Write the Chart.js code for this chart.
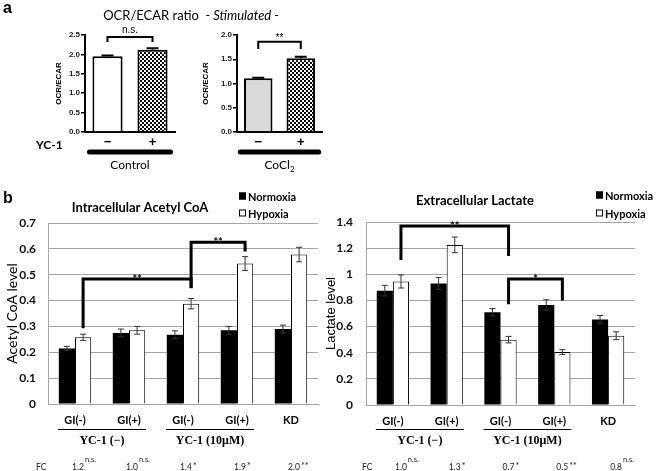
<!DOCTYPE html>
<html>
<head>
<meta charset="utf-8">
<script src="https://cdn.jsdelivr.net/npm/chart.js@4.4.0/dist/chart.umd.min.js"></script>
<style>
  html, body { margin: 0; padding: 0; background: #fff; }
  #wrap { position: relative; width: 660px; height: 471px; overflow: hidden; }
  #wrap canvas { position: absolute; left: 0; top: 0; }
</style>
</head>
<body>
<div id="wrap">
  <canvas id="ocrControl" width="660" height="471"></canvas>
  <canvas id="ocrCocl2" width="660" height="471"></canvas>
  <canvas id="acetyl" width="660" height="471"></canvas>
  <canvas id="lactate" width="660" height="471"></canvas>
</div>
<script>
// ---- panel a: OCR/ECAR ----
const yc1Labels = ['−', '+'];
const ocrControl = [1.95, 2.12];
const ocrControlErr = [0.02, 0.04];
const ocrCocl2 = [1.11, 1.52];
const ocrCocl2Err = [0.01, 0.03];
const ocrControlTicks = [0, 0.5, 1.0, 1.5, 2.0, 2.5];
const ocrCocl2Ticks = [0, 0.5, 1.0, 1.5, 2.0];
const ocrControlBracket = [{ from: 0, to: 1, top: 2.45, left: 2.32, right: 2.32, mark: 'n.s.' }];
const ocrCocl2Bracket = [{ from: 0, to: 1, top: 1.86, left: 1.71, right: 1.71, mark: '**' }];

// ---- panel b ----
const groups = ['GI(-)', 'GI(+)', 'GI(-)', 'GI(+)', 'KD'];
const yc1Groups = [
  { label: 'YC-1 (−)', from: 0, to: 1 },
  { label: 'YC-1 (10μM)', from: 2, to: 3 }
];
const acetylNormoxia = [0.215, 0.275, 0.268, 0.285, 0.29];
const acetylNormoxiaErr = [0.008, 0.015, 0.015, 0.015, 0.015];
const acetylHypoxia = [0.258, 0.285, 0.388, 0.543, 0.578];
const acetylHypoxiaErr = [0.012, 0.015, 0.02, 0.027, 0.028];
const acetylFC = ['1.2', '1.0', '1.4', '1.9', '2.0'];
const acetylSig = ['n.s.', 'n.s.', '*', '*', '**'];
const acetylBrackets = [
  { from: 0, to: 2, top: 0.483, left: 0.293, right: 0.448, mark: '**' },
  { from: 2, to: 3, top: 0.626, left: 0.45, right: 0.59, mark: '**' }
];

const lactateNormoxia = [0.875, 0.93, 0.71, 0.765, 0.655];
const lactateNormoxiaErr = [0.04, 0.045, 0.028, 0.04, 0.03];
const lactateHypoxia = [0.945, 1.225, 0.5, 0.405, 0.53];
const lactateHypoxiaErr = [0.05, 0.06, 0.025, 0.018, 0.03];
const lactateFC = ['1.0', '1.3', '0.7', '0.5', '0.8'];
const lactateSig = ['n.s.', '*', '*', '**', 'n.s.'];
const lactateBrackets = [
  { from: 0, to: 2, top: 1.37, left: 1.11, right: 1.14, mark: '**' },
  { from: 2, to: 3, top: 0.964, left: 0.77, right: 0.8, mark: '*' }
];

Chart.defaults.font.family = 'Lato, "Liberation Sans", sans-serif';
Chart.defaults.color = '#000';

// checker fill for the YC-1 (+) bars
function checker() {
  const c = document.createElement('canvas');
  c.width = 4; c.height = 4;
  const g = c.getContext('2d');
  g.fillStyle = '#fff'; g.fillRect(0, 0, 4, 4);
  g.fillStyle = '#000'; g.fillRect(0, 0, 2, 2); g.fillRect(2, 2, 2, 2);
  return g.createPattern(c, 'repeat');
}

const errorBars = {
  id: 'errorBars',
  afterDatasetsDraw(chart, args, o) {
    const ctx = chart.ctx, ys = chart.scales.y;
    ctx.save();
    ctx.strokeStyle = o.color;
    ctx.lineWidth = o.lineWidth;
    chart.data.datasets.forEach((ds, i) => {
      if (!ds.errors) return;
      chart.getDatasetMeta(i).data.forEach((bar, j) => {
        const v = ds.data[j], e = ds.errors[j];
        const yTop = ys.getPixelForValue(v + e);
        const yBot = ys.getPixelForValue(o.upOnly ? v : v - e);
        ctx.beginPath();
        ctx.moveTo(bar.x, yTop); ctx.lineTo(bar.x, yBot);
        ctx.moveTo(bar.x - o.cap / 2, yTop); ctx.lineTo(bar.x + o.cap / 2, yTop);
        if (!o.upOnly) { ctx.moveTo(bar.x - o.cap / 2, yBot); ctx.lineTo(bar.x + o.cap / 2, yBot); }
        ctx.stroke();
      });
    });
    ctx.restore();
  }
};

const brackets = {
  id: 'brackets',
  afterDatasetsDraw(chart, args, o) {
    const ctx = chart.ctx, ys = chart.scales.y;
    const bars = chart.getDatasetMeta(o.dataset).data;
    ctx.save();
    ctx.strokeStyle = '#000';
    ctx.fillStyle = '#000';
    ctx.lineWidth = o.lineWidth;
    ctx.lineJoin = 'miter';
    ctx.font = o.font;
    ctx.textAlign = 'center';
    ctx.textBaseline = 'alphabetic';
    o.items.forEach(b => {
      const x1 = bars[b.from].x, x2 = bars[b.to].x;
      const yt = ys.getPixelForValue(b.top);
      ctx.beginPath();
      ctx.moveTo(x1, ys.getPixelForValue(b.left));
      ctx.lineTo(x1, yt);
      ctx.lineTo(x2, yt);
      ctx.lineTo(x2, ys.getPixelForValue(b.right));
      ctx.stroke();
      const star = b.mark.indexOf('*') >= 0;
      ctx.fillText(b.mark, (x1 + x2) / 2, yt + (star ? o.starDy : o.textDy));
    });
    ctx.restore();
  }
};

// free text: titles, panel letters
const texts = {
  id: 'texts',
  afterDraw(chart, args, o) {
    const ctx = chart.ctx;
    ctx.save();
    ctx.fillStyle = '#000';
    ctx.textBaseline = 'alphabetic';
    o.items.forEach(t => {
      const parts = t.parts || [{ text: t.text, font: t.font }];
      let total = 0;
      parts.forEach(p => { ctx.font = p.font; total += ctx.measureText(p.text).width; });
      let x = t.align === 'left' ? t.x : t.x - total / 2;
      ctx.textAlign = 'left';
      parts.forEach(p => {
        ctx.font = p.font;
        ctx.fillText(p.text, x, t.y);
        x += ctx.measureText(p.text).width;
      });
    });
    ctx.restore();
  }
};

const boxLegend = {
  id: 'boxLegend',
  afterDraw(chart, args, o) {
    const ctx = chart.ctx;
    ctx.save();
    ctx.font = o.font;
    ctx.textBaseline = 'middle';
    ctx.textAlign = 'left';
    chart.data.datasets.forEach((ds, i) => {
      const y = o.y + i * o.gap;
      ctx.fillStyle = ds.backgroundColor;
      ctx.fillRect(o.x, y - o.size / 2, o.size, o.size);
      ctx.strokeStyle = '#000';
      ctx.lineWidth = 1;
      ctx.strokeRect(o.x + 0.5, y - o.size / 2 + 0.5, o.size - 1, o.size - 1);
      ctx.fillStyle = '#000';
      ctx.fillText(ds.label, o.x + o.size + 2, y + 1);
    });
    ctx.restore();
  }
};

// YC-1 group underline, group names and the FC row
const groupAxis = {
  id: 'groupAxis',
  afterDraw(chart, args, o) {
    const ctx = chart.ctx, xs = chart.scales.x;
    ctx.save();
    ctx.fillStyle = '#000';
    ctx.strokeStyle = '#000';
    ctx.lineWidth = 1;
    ctx.textAlign = 'center';
    ctx.textBaseline = 'alphabetic';
    yc1Groups.forEach(g => {
      const x1 = xs.getPixelForValue(g.from) - o.ext;
      const x2 = xs.getPixelForValue(g.to) + o.ext;
      ctx.beginPath();
      ctx.moveTo(x1, o.lineY + 0.5); ctx.lineTo(x2, o.lineY + 0.5);
      ctx.stroke();
      ctx.font = 'bold 12px "Liberation Serif", serif';
      ctx.fillText(g.label, (x1 + x2) / 2, o.textY);
    });
    ctx.fillStyle = '#222';
    ctx.font = '8.5px Lato, sans-serif';
    ctx.textAlign = 'left';
    ctx.fillText('FC', o.fcX, o.fcY);
    o.fc.forEach((v, i) => {
      const x = xs.getPixelForValue(i) + o.fcShift;
      ctx.font = '8.5px Lato, sans-serif';
      ctx.textAlign = 'center';
      ctx.fillText(v, x, o.fcY);
      const w = ctx.measureText(v).width;
      const s = o.sig[i];
      ctx.font = (s.indexOf('*') >= 0 ? '9px' : '7.5px') + ' Lato, sans-serif';
      ctx.textAlign = 'left';
      ctx.fillText(s, x + w / 2 + 1, o.fcY + (s.indexOf('*') >= 0 ? -1 : -8));
    });
    ctx.restore();
  }
};

// thick treatment bar under panel a charts
const treatBar = {
  id: 'treatBar',
  afterDraw(chart, args, o) {
    const ctx = chart.ctx, xs = chart.scales.x;
    const x1 = xs.getPixelForValue(0) - o.ext, x2 = xs.getPixelForValue(1) + o.ext;
    ctx.save();
    ctx.strokeStyle = '#000';
    ctx.lineWidth = 5;
    ctx.lineCap = 'round';
    ctx.beginPath();
    ctx.moveTo(x1, o.y); ctx.lineTo(x2, o.y);
    ctx.stroke();
    ctx.fillStyle = '#000';
    ctx.font = '12px Lato, sans-serif';
    const w1 = ctx.measureText(o.label).width;
    ctx.font = '8px Lato, sans-serif';
    const w2 = o.sub ? ctx.measureText(o.sub).width : 0;
    const x0 = (x1 + x2) / 2 - (w1 + w2) / 2;
    ctx.textAlign = 'left';
    ctx.font = '12px Lato, sans-serif';
    ctx.fillText(o.label, x0, o.labelY);
    if (o.sub) {
      ctx.font = '8px Lato, sans-serif';
      ctx.fillText(o.sub, x0 + w1, o.labelY + 3);
    }
    ctx.restore();
  }
};

// 0 -> "0", 1.0 -> "1", 0.4 -> "0.4"
const plainNumber = v => String(Math.round(v * 10) / 10);

function ocrChart(id, values, errs, colors, tickVals, bracketItems, pad, yWidth, extra) {
  const maxV = tickVals[tickVals.length - 1];
  return new Chart(document.getElementById(id), {
    type: 'bar',
    data: {
      labels: yc1Labels,
      datasets: [{
        data: values,
        errors: errs,
        backgroundColor: colors,
        borderColor: '#000',
        borderWidth: 2,
        borderSkipped: 'bottom',
        barPercentage: 0.67,
        categoryPercentage: 1
      }]
    },
    options: {
      responsive: false,
      animation: false,
      devicePixelRatio: 1,
      layout: { padding: pad },
      scales: {
        x: {
          grid: { display: false, tickLength: 0 },
          border: { display: true, color: '#000', width: 2 },
          ticks: { font: { family: '"Liberation Sans", sans-serif', size: 13, weight: 'bold' }, padding: 3, color: '#000' },
          afterFit: s => { s.height = 20; }
        },
        y: {
          min: 0, max: maxV,
          afterBuildTicks: s => { s.ticks = tickVals.map(v => ({ value: v })); },
          grid: { drawOnChartArea: false, drawTicks: true, tickLength: 4, color: '#000', lineWidth: 1.5 },
          border: { display: true, color: '#000', width: 2 },
          ticks: {
            font: { family: '"Liberation Sans", sans-serif', size: 8, weight: 'bold' },
            padding: 1, color: '#222',
            callback: v => Number(v).toFixed(1)
          },
          title: {
            display: true, text: 'OCR/ECAR', padding: { top: 0, bottom: 0 },
            font: { family: '"Liberation Sans", sans-serif', size: 8, weight: 'bold' }
          },
          afterFit: s => { s.width = yWidth; }
        }
      },
      plugins: {
        legend: { display: false },
        tooltip: { enabled: false },
        errorBars: { color: '#000', lineWidth: 2, cap: 12, upOnly: true },
        brackets: { dataset: 0, items: bracketItems, lineWidth: 2, font: '10px "Liberation Sans", sans-serif', textDy: -4, starDy: -1 },
        treatBar: extra.treat,
        texts: { items: extra.texts || [] }
      }
    },
    plugins: [errorBars, brackets, treatBar, texts]
  });
}

const pattern = checker();

ocrChart('ocrControl', ocrControl, ocrControlErr, ['#ffffff', pattern], ocrControlTicks, ocrControlBracket,
  { left: 54, right: 485, top: 35, bottom: 319 }, 31, {
    treat: { y: 152, ext: 18, label: 'Control', labelY: 169 },
    texts: [
      { text: 'a', x: 3, y: 13, align: 'left', font: 'bold 16px "Liberation Sans", sans-serif' },
      { x: 191, y: 20, parts: [
        { text: 'OCR/ECAR ratio  ', font: '13px Lato, sans-serif' },
        { text: '- Stimulated -', font: 'italic 13px Lato, sans-serif' }
      ] },
      { text: 'YC-1', x: 36, y: 149, align: 'left', font: 'bold 12px Lato, sans-serif' }
    ]
  });

ocrChart('ocrCocl2', ocrCocl2, ocrCocl2Err, ['#d9d9d9', pattern], ocrCocl2Ticks, ocrCocl2Bracket,
  { left: 201, right: 338, top: 35, bottom: 319 }, 36, {
    treat: { y: 152, ext: 18, label: 'CoCl', sub: '2', labelY: 169 }
  });

function levelChart(id, normoxia, normoxiaErr, hypoxia, hypoxiaErr, maxV, step, bracketItems, pad, yWidth, titleFont, titleText, tickPad, extra) {
  return new Chart(document.getElementById(id), {
    type: 'bar',
    data: {
      labels: groups,
      datasets: [
        { label: 'Normoxia', data: normoxia, errors: normoxiaErr, backgroundColor: '#000000', borderWidth: 0 },
        { label: 'Hypoxia', data: hypoxia, errors: hypoxiaErr, backgroundColor: '#ffffff', borderColor: '#000', borderWidth: 1 }
      ]
    },
    options: {
      responsive: false,
      animation: false,
      devicePixelRatio: 1,
      layout: { padding: pad },
      datasets: { bar: { categoryPercentage: 0.6, barPercentage: 1 } },
      scales: {
        x: {
          grid: { display: false, tickLength: 0 },
          border: { display: true, color: '#a6a6a6' },
          ticks: { font: { size: 11, weight: 'bold' }, padding: 10, color: '#000' },
          afterFit: s => { s.height = extra.xHeight; }
        },
        y: {
          min: 0, max: maxV,
          grid: { color: '#a6a6a6', drawTicks: false },
          border: { display: true, color: '#a6a6a6' },
          ticks: { stepSize: step, font: { size: 12, weight: 'bold' }, padding: tickPad, color: '#111', callback: plainNumber },
          title: { display: true, text: titleText, font: titleFont, padding: { top: extra.titlePad, bottom: 0 } },
          afterFit: s => { s.width = yWidth; }
        }
      },
      plugins: {
        legend: { display: false },
        tooltip: { enabled: false },
        errorBars: { color: '#333', lineWidth: 1, cap: 6, upOnly: false },
        brackets: { dataset: 1, items: bracketItems, lineWidth: 3, font: 'bold 11px Lato, sans-serif', textDy: -3, starDy: 4 },
        boxLegend: extra.legend,
        groupAxis: extra.axis,
        texts: { items: extra.texts }
      }
    },
    plugins: [errorBars, brackets, boxLegend, groupAxis, texts]
  });
}

levelChart('acetyl', acetylNormoxia, acetylNormoxiaErr, acetylHypoxia, acetylHypoxiaErr, 0.7, 0.1, acetylBrackets,
  { left: 0, right: 342, top: 223, bottom: 0 }, 48, { size: 14 }, 'Acetyl CoA level', 12, {
    xHeight: 67, titlePad: 4,
    legend: { x: 239, y: 196, gap: 17, size: 7, font: 'bold 11px Lato, sans-serif' },
    axis: { ext: 17, lineY: 429, textY: 444, fcX: 36, fcY: 470, fcShift: 3, fc: acetylFC, sig: acetylSig },
    texts: [
      { text: 'b', x: 3, y: 203, align: 'left', font: 'bold 16px "Liberation Sans", sans-serif' },
      { text: 'Intracellular Acetyl CoA', x: 140, y: 212, font: 'bold 13px Lato, sans-serif' }
    ]
  });

levelChart('lactate', lactateNormoxia, lactateNormoxiaErr, lactateHypoxia, lactateHypoxiaErr, 1.4, 0.2, lactateBrackets,
  { left: 322, right: 25, top: 222, bottom: 0 }, 44, { family: '"Liberation Sans", sans-serif', size: 13 }, 'Lactate level', 13, {
    xHeight: 66, titlePad: 2,
    legend: { x: 596, y: 195, gap: 18, size: 7, font: 'bold 11px Lato, sans-serif' },
    axis: { ext: 17, lineY: 429, textY: 444, fcX: 362, fcY: 470, fcShift: 8, fc: lactateFC, sig: lactateSig },
    texts: [
      { text: 'Extracellular Lactate', x: 475, y: 205, font: 'bold 13px Lato, sans-serif' }
    ]
  });
</script>
</body>
</html>
